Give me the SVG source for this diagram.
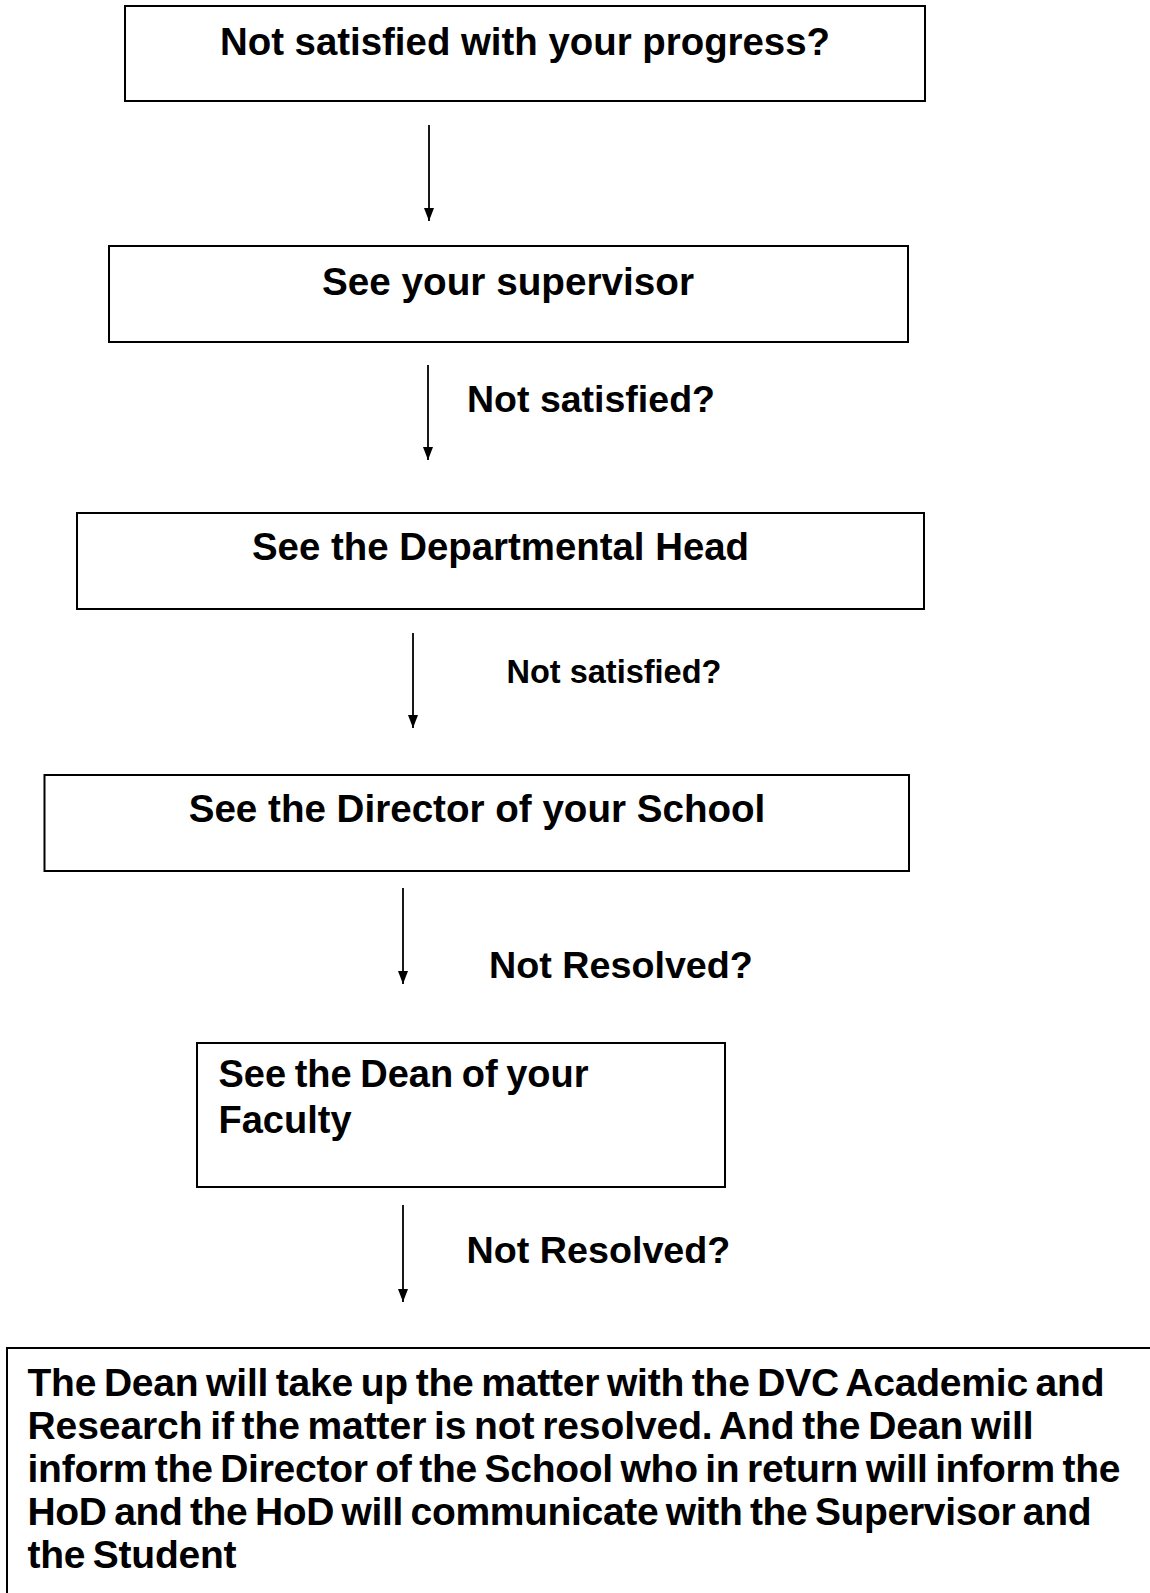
<svg xmlns="http://www.w3.org/2000/svg" width="1150" height="1593" viewBox="0 0 1150 1593">
<style>
.box{fill:#fff;stroke:#000;stroke-width:2}
.t{font-family:"Liberation Sans",Arial,sans-serif;font-weight:bold;fill:#000}
.c{text-anchor:middle}
.edge{stroke:#000;stroke-width:1.8;fill:none}
</style>
<defs>
<marker id="ah" viewBox="0 0 10 10" refX="10" refY="5" markerWidth="13" markerHeight="10" markerUnits="userSpaceOnUse" orient="auto" preserveAspectRatio="none">
<path d="M0,0 L10,5 L0,10 z" fill="#000"/>
</marker>
</defs>
<rect width="1150" height="1593" fill="#fff"/>
<g id="connectors">
<line class="edge" x1="429" y1="125" x2="429" y2="221" marker-end="url(#ah)"/>
<line class="edge" x1="428" y1="365" x2="428" y2="460" marker-end="url(#ah)"/>
<line class="edge" x1="413" y1="633" x2="413" y2="728" marker-end="url(#ah)"/>
<line class="edge" x1="403" y1="888" x2="403" y2="984" marker-end="url(#ah)"/>
<line class="edge" x1="403" y1="1205" x2="403" y2="1302" marker-end="url(#ah)"/>
<text class="t" x="467" y="412" font-size="37.5">Not satisfied?</text>
<text class="t" x="506.5" y="683" font-size="32.5">Not satisfied?</text>
<text class="t" x="489" y="978" font-size="37.7">Not Resolved?</text>
<text class="t" x="466.5" y="1263" font-size="37.7">Not Resolved?</text>
</g>
<g id="n1">
<rect class="box" x="125" y="6" width="800" height="95"/>
<text class="t c" x="525" y="55" font-size="38.4">Not satisfied with your progress?</text>
</g>
<g id="n2">
<rect class="box" x="109" y="246" width="799" height="96"/>
<text class="t c" x="508" y="295" font-size="38.7">See your supervisor</text>
</g>
<g id="n3">
<rect class="box" x="77" y="513" width="847" height="96"/>
<text class="t c" x="500.5" y="560" font-size="38.4">See the Departmental Head</text>
</g>
<g id="n4">
<rect class="box" x="44.5" y="775" width="864.5" height="96"/>
<text class="t c" x="477" y="822" font-size="38.6">See the Director of your School</text>
</g>
<g id="n5">
<rect class="box" x="197" y="1043" width="528" height="144"/>
<text class="t" font-size="38" word-spacing="-2"><tspan x="218.5" y="1087">See the Dean of your</tspan><tspan x="218.5" y="1133">Faculty</tspan></text>
</g>
<g id="n6">
<rect class="box" x="7" y="1348" width="1150" height="260"/>
<text class="t" font-size="39" word-spacing="-3">
<tspan x="27.5" y="1396" textLength="1077" lengthAdjust="spacing">The Dean will take up the matter with the DVC Academic and</tspan>
<tspan x="27.5" y="1439" textLength="1006" lengthAdjust="spacing">Research if the matter is not resolved. And the Dean will</tspan>
<tspan x="27.5" y="1482" textLength="1093" lengthAdjust="spacing">inform the Director of the School who in return will inform the</tspan>
<tspan x="27.5" y="1525" textLength="1064" lengthAdjust="spacing">HoD and the HoD will communicate with the Supervisor and</tspan>
<tspan x="27.5" y="1568" textLength="209" lengthAdjust="spacing">the Student</tspan>
</text>
</g>
</svg>
